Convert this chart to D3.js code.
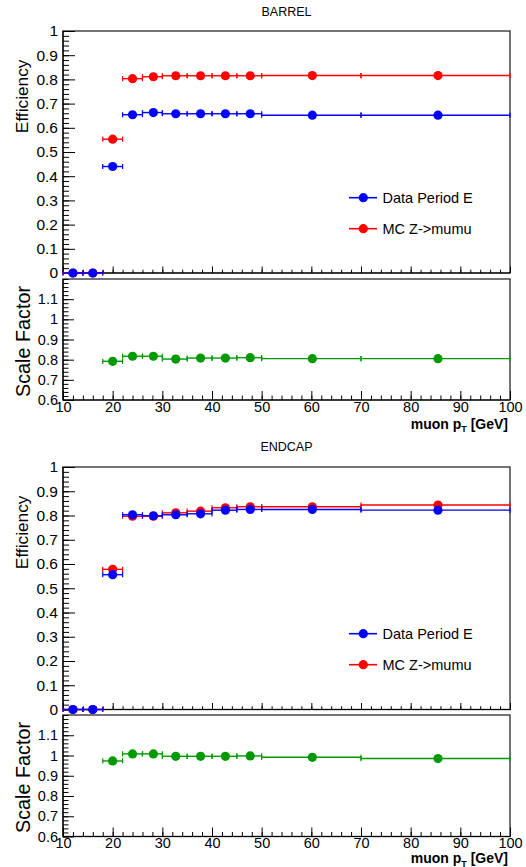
<!DOCTYPE html>
<html>
<head>
<meta charset="utf-8">
<script src="https://cdn.jsdelivr.net/npm/d3@7"></script>
<style>
  body { margin: 0; background: #fff; }
  svg { display: block; font-family: "Liberation Sans", Arial, Helvetica, sans-serif; }
</style>
</head>
<body>
<div id="chart"></div>
<script>
// pT bins (GeV)
const ptLow = [10, 14, 18, 22, 26, 30, 35, 40, 45, 50, 70];
const ptHigh = [14, 18, 22, 26, 30, 35, 40, 45, 50, 70, 100];
const ptCenter = [12, 16, 20, 24, 28.2, 32.7, 37.7, 42.7, 47.7, 60.2, 85.5];

// barrel
const barrelData = [0, 0, 0.44, 0.654, 0.663, 0.658, 0.658, 0.658, 0.658, 0.652, 0.652];
const barrelMC = [0, 0, 0.553, 0.803, 0.811, 0.815, 0.815, 0.815, 0.815, 0.816, 0.816];
const barrelSF = [null, null, 0.792, 0.817, 0.817, 0.803, 0.808, 0.808, 0.81, 0.805, 0.805];

// endcap
const endcapData = [0, 0, 0.556, 0.803, 0.799, 0.803, 0.807, 0.822, 0.825, 0.825, 0.822];
const endcapMC = [0, 0, 0.578, 0.797, 0.797, 0.811, 0.818, 0.832, 0.836, 0.836, 0.843];
const endcapSF = [null, null, 0.973, 1.008, 1.008, 0.996, 0.996, 0.996, 0.998, 0.991, 0.985];

// ticks
const xTicks = [10, 20, 30, 40, 50, 60, 70, 80, 90, 100];
const effTicks = [0, 0.1, 0.2, 0.3, 0.4, 0.5, 0.6, 0.7, 0.8, 0.9, 1];
const sfTicks = [0.6, 0.7, 0.8, 0.9, 1, 1.1];
const legendLabels = ["Data Period E", "MC Z->mumu"];

const blue = "#0000ff";
const red = "#ff0000";
const green = "#009900";

/**
 * Layout
 */
let svgWidth = 526;
let svgHeight = 867;

let frameLeft = 63;
let frameRight = 510;

let markerR = 4.6;
let capHalf = 2.6;

const panels = [
    { title: "BARREL", titleY: 15.5, effTop: 31, effBottom: 273, sfTop: 279, sfBottom: 400, xTitleY: 428.5,
      data: barrelData, mc: barrelMC, sf: barrelSF },
    { title: "ENDCAP", titleY: 451, effTop: 467, effBottom: 709.5, sfTop: 715, sfBottom: 836.5, xTitleY: 863,
      data: endcapData, mc: endcapMC, sf: endcapSF }
];

const svg = d3.select("#chart")
    .append("svg")
    .attr("width", svgWidth)
    .attr("height", svgHeight);

const x = d3.scaleLinear().domain([10, 100]).range([frameLeft, frameRight]);

panels.forEach(drawPanel);

function drawPanel(p) {
    const g = svg.append("g");
    const yEff = d3.scaleLinear().domain([0, 1]).range([p.effBottom, p.effTop]);
    const ySF = d3.scaleLinear().domain([0.6, 1.2]).range([p.sfBottom, p.sfTop]);

    // title
    g.append("text")
        .attr("x", (frameLeft + frameRight) / 2)
        .attr("y", p.titleY)
        .attr("text-anchor", "middle")
        .attr("font-size", 12.5)
        .text(p.title);

    // ---- efficiency pad
    drawFrame(g, p.effTop, p.effBottom);
    drawYAxis(g, yEff, effTicks, d3.range(0, 51).map(i => i * 0.02), 15.5, 12, 6);
    drawXAxis(g, p.effBottom, false);

    drawSeries(g, yEff, p.mc, red);
    drawSeries(g, yEff, p.data, blue);

    g.append("text")
        .attr("transform", `translate(28,${p.effTop + 28.5}) rotate(-90)`)
        .attr("text-anchor", "end")
        .attr("font-size", 17.3)
        .text("Efficiency");

    // legend
    const legendColors = [blue, red];
    legendLabels.forEach((lab, i) => {
        const ly = p.effTop + 166.7 + i * 31;
        g.append("line")
            .attr("x1", 349).attr("x2", 377)
            .attr("y1", ly).attr("y2", ly)
            .attr("stroke", legendColors[i])
            .attr("stroke-width", 1.6);
        g.append("circle")
            .attr("cx", 363.3).attr("cy", ly)
            .attr("r", markerR)
            .attr("fill", legendColors[i]);
        g.append("text")
            .attr("x", 382.5).attr("y", ly)
            .attr("dy", "0.36em")
            .attr("font-size", 14.5)
            .text(lab);
    });

    // ---- scale factor pad
    drawFrame(g, p.sfTop, p.sfBottom);
    drawYAxis(g, ySF, sfTicks, d3.range(0, 31).map(i => 0.6 + i * 0.02), 14.5, 11, 5.5);
    drawXAxis(g, p.sfBottom, true);

    drawSeries(g, ySF, p.sf, green);

    g.append("text")
        .attr("transform", `translate(30,${p.sfTop + 7}) rotate(-90)`)
        .attr("text-anchor", "end")
        .attr("font-size", 19.8)
        .text("Scale Factor");

    // x title
    const xt = g.append("text")
        .attr("x", 508)
        .attr("y", p.xTitleY)
        .attr("text-anchor", "end")
        .attr("font-size", 14)
        .attr("font-weight", "bold");
    xt.append("tspan").text("muon p");
    xt.append("tspan").attr("font-size", 9).attr("dy", 3.5).text("T");
    xt.append("tspan").attr("dy", -3.5).text(" [GeV]");
}

function drawFrame(g, top, bottom) {
    g.append("rect")
        .attr("x", frameLeft)
        .attr("y", top)
        .attr("width", frameRight - frameLeft)
        .attr("height", bottom - top)
        .attr("fill", "none")
        .attr("stroke", "#3a3a3a")
        .attr("stroke-width", 1.4);
}

function drawYAxis(g, y, major, minor, fontSize, majorLen, minorLen) {
    const minorAxis = d3.axisLeft(y)
        .tickValues(minor)
        .tickSize(-minorLen)
        .tickFormat("");
    g.append("g")
        .attr("transform", `translate(${frameLeft},0)`)
        .call(minorAxis)
        .call(s => s.select(".domain").remove())
        .call(s => s.selectAll("line").attr("stroke", "#000"));

    const majorAxis = d3.axisLeft(y)
        .tickValues(major)
        .tickSize(-majorLen)
        .tickPadding(5)
        .tickFormat(d3.format("~g"));
    g.append("g")
        .attr("transform", `translate(${frameLeft},0)`)
        .call(majorAxis)
        .call(s => s.select(".domain").remove())
        .call(s => s.selectAll("line").attr("stroke", "#000"))
        .call(s => s.selectAll("text")
            .attr("font-size", fontSize)
            .attr("font-family", null)
            .attr("fill", "#000"));

    g.append("line")
        .attr("x1", frameLeft).attr("x2", frameLeft)
        .attr("y1", y.range()[0]).attr("y2", y.range()[1])
        .attr("stroke", "#000")
        .attr("stroke-width", 1.2);
}

function drawXAxis(g, yPos, withLabels) {
    const minorAxis = d3.axisBottom(x)
        .tickValues(d3.range(0, 46).map(i => 10 + i * 2))
        .tickSize(withLabels ? -4.5 : -3.3)
        .tickFormat("");
    g.append("g")
        .attr("transform", `translate(0,${yPos})`)
        .call(minorAxis)
        .call(s => s.select(".domain").remove())
        .call(s => s.selectAll("line").attr("stroke", "#000"));

    const majorAxis = d3.axisBottom(x)
        .tickValues(xTicks)
        .tickSize(withLabels ? -9 : -6.5)
        .tickPadding(1.5)
        .tickFormat(withLabels ? d3.format("d") : "");
    g.append("g")
        .attr("transform", `translate(0,${yPos})`)
        .call(majorAxis)
        .call(s => s.select(".domain").remove())
        .call(s => s.selectAll("line").attr("stroke", "#000"))
        .call(s => s.selectAll("text")
            .attr("font-size", 14.5)
            .attr("font-family", null)
            .attr("fill", "#000"));

    g.append("line")
        .attr("x1", frameLeft).attr("x2", frameRight)
        .attr("y1", yPos).attr("y2", yPos)
        .attr("stroke", "#000")
        .attr("stroke-width", 1.2);
}

function drawSeries(g, y, values, color) {
    const pts = values
        .map((v, i) => ({ v: v, lo: ptLow[i], hi: ptHigh[i], c: ptCenter[i] }))
        .filter(d => d.v !== null);

    const s = g.append("g");

    // x error bars
    s.selectAll(".xerr")
        .data(pts)
        .enter()
        .append("line")
        .attr("x1", d => x(d.lo))
        .attr("x2", d => x(d.hi))
        .attr("y1", d => y(d.v))
        .attr("y2", d => y(d.v))
        .attr("stroke", color)
        .attr("stroke-width", 1.4);

    // end caps
    const caps = pts.flatMap(d => [{ x: d.lo, v: d.v }, { x: d.hi, v: d.v }]);
    s.selectAll(".cap")
        .data(caps)
        .enter()
        .append("line")
        .attr("x1", d => x(d.x))
        .attr("x2", d => x(d.x))
        .attr("y1", d => y(d.v) - capHalf)
        .attr("y2", d => y(d.v) + capHalf)
        .attr("stroke", color)
        .attr("stroke-width", 1.2);

    // markers
    s.selectAll("circle")
        .data(pts)
        .enter()
        .append("circle")
        .attr("cx", d => x(d.c))
        .attr("cy", d => y(d.v))
        .attr("r", markerR)
        .attr("fill", color);
}
</script>
</body>
</html>
